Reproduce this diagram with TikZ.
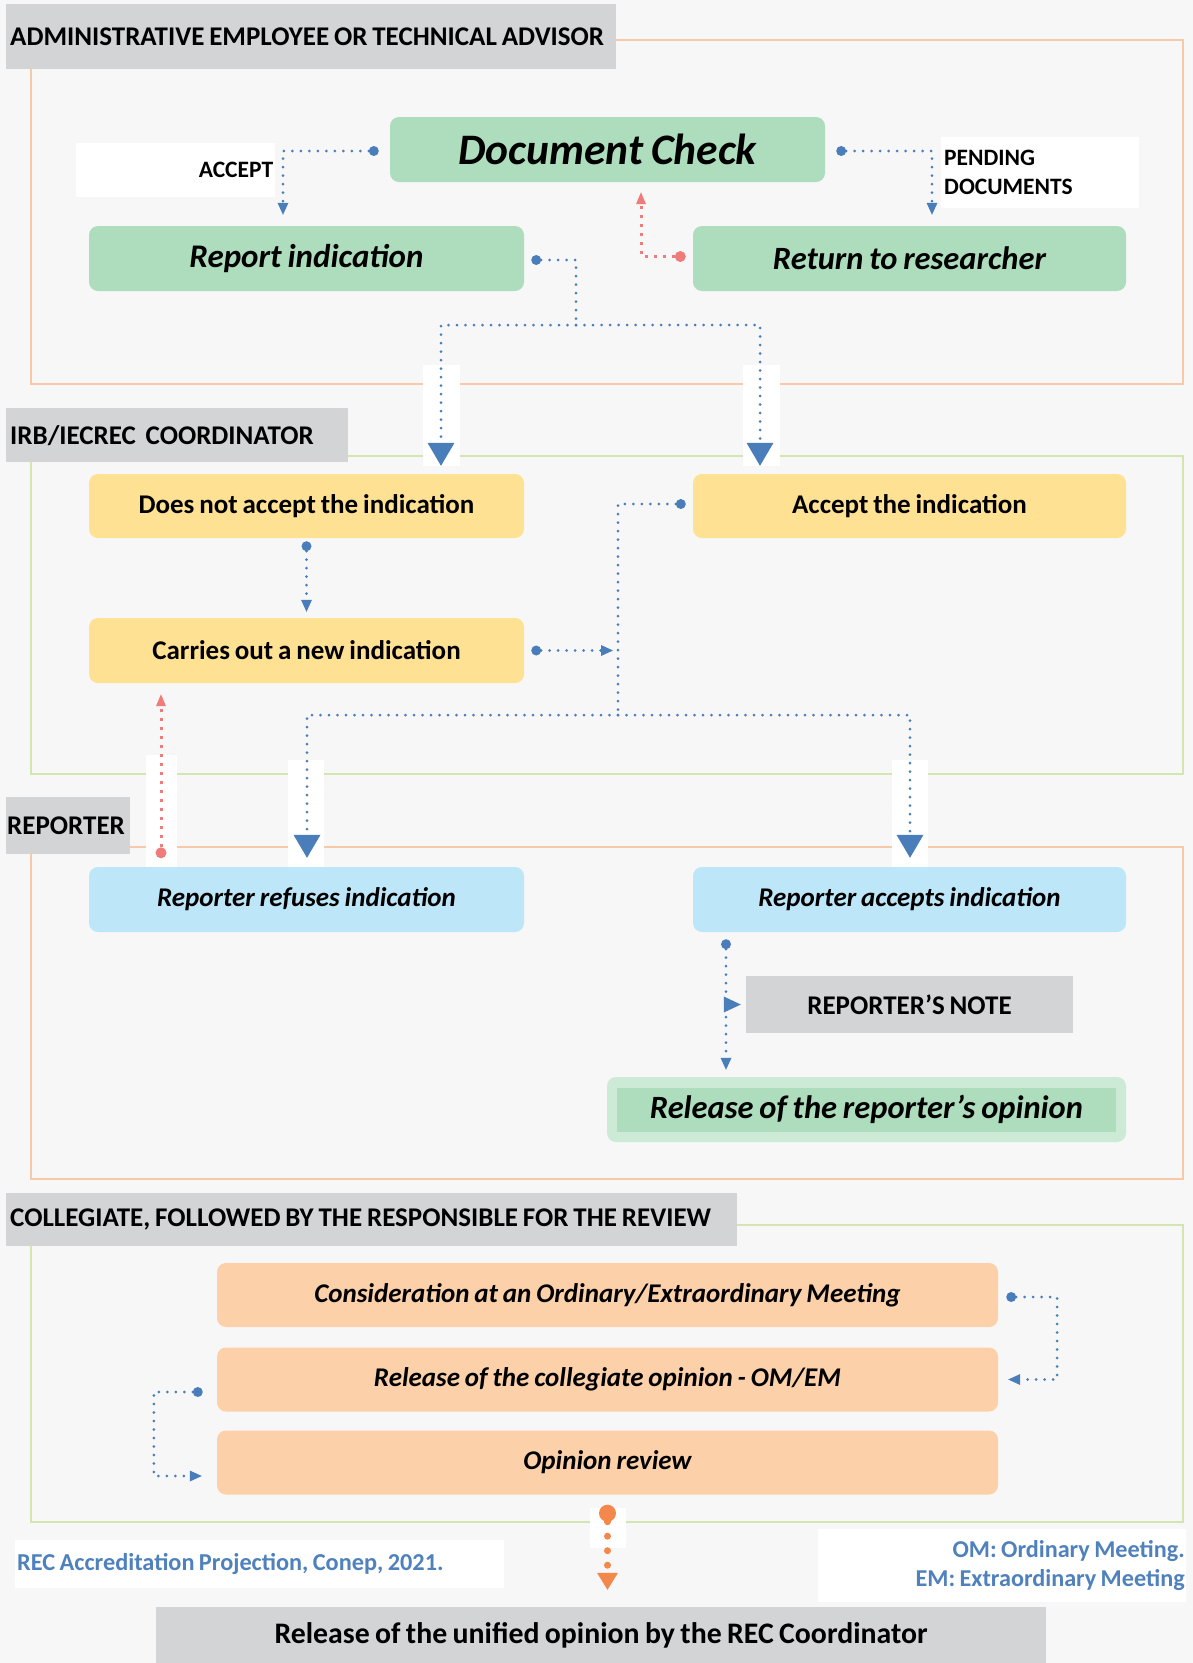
\documentclass[tikz,border=0pt]{standalone}
\usepackage{fontspec}
\setmainfont{Carlito}[WordSpace=0.8]
\usetikzlibrary{arrows.meta,calc}
\definecolor{cbg}{HTML}{F7F7F7}
\definecolor{cgray}{HTML}{D3D4D6}
\definecolor{cgreen}{HTML}{ADDDBD}
\definecolor{cgreenl}{HTML}{CDEAD6}
\definecolor{cyellow}{HTML}{FFE193}
\definecolor{cblue}{HTML}{BDE6F9}
\definecolor{cpeach}{HTML}{FCD0A9}
\definecolor{cfo}{HTML}{F8C9A8}
\definecolor{cfg}{HTML}{D4E6B0}
\definecolor{cline}{HTML}{4A7EBB}
\definecolor{cred}{HTML}{EF7B7B}
\definecolor{corange}{HTML}{F4874B}
\definecolor{cnote}{HTML}{4F81BD}
\newcommand\fsz[2]{\fontsize{#1}{#2}\selectfont}
\begin{document}
\begin{tikzpicture}[x=1pt,y=-1pt,
  box/.style={rounded corners=9pt, inner sep=0pt, minimum width=435pt, minimum height=65pt, font=\fsz{27}{32}\bfseries},
  greenbox/.style={box, fill=cgreen},
  yellowbox/.style={box, fill=cyellow},
  bluebox/.style={box, fill=cblue},
  peachbox/.style={box, fill=cpeach, minimum width=781pt, minimum height=64pt, font=\fsz{27}{32}\bfseries\itshape},
  titlebox/.style={fill=cgray, anchor=north west, inner xsep=4pt, inner ysep=0pt, font=\fsz{27}{32}\bfseries},
  whitebox/.style={fill=white, anchor=north west, inner xsep=3pt, inner ysep=0pt},
  bl/.style={draw=cline, line width=3pt, dash pattern=on 0pt off 8.5pt, line cap=round},
  rd/.style={draw=cred, line width=3pt, dash pattern=on 3pt off 6pt},
  og/.style={draw=corange, line width=7pt, dash pattern=on 0pt off 14.5pt, line cap=round},
  dot/.tip={Circle[length=10pt,width=10pt,line width=0pt]},
  stri/.tip={Triangle[length=12pt,width=11pt,line width=0pt]},
  btri/.tip={Triangle[length=23pt,width=27pt,line width=0pt]},
  frame/.style={line width=2.5pt}
]
\useasboundingbox (0,0) rectangle (1193,1663);
\fill[cbg] (0,0) rectangle (1193,1663);

% lane frames
\draw[frame, cfo] (31,40) rectangle (1183,384);
\draw[frame, cfg] (31,456) rectangle (1183,774);
\draw[frame, cfo] (31,847) rectangle (1183,1179);
\draw[frame, cfg] (31,1225) rectangle (1183,1522);

% white patches where connectors cross frames
\fill[white] (423,365) rectangle (460,466);
\fill[white] (743,365) rectangle (780,466);
\fill[white] (146,755) rectangle (177,867);
\fill[white] (288,760) rectangle (324,867);
\fill[white] (892,760) rectangle (928,868);
\fill[white] (590,1508) rectangle (626,1548);

% lane titles
\node[titlebox, minimum width=610pt, minimum height=65pt] (t1) at (6,4) {\makebox[602pt][l]{ADMINISTRATIVE EMPLOYEE OR TECHNICAL ADVISOR}};
\node[titlebox, minimum width=342pt, minimum height=54pt] (t2) at (6,408) {\makebox[334pt][l]{IRB/IECREC\hspace{0.18em} COORDINATOR}};
\node[titlebox, minimum width=124pt, minimum height=57pt, inner xsep=1pt] (t3) at (6,797) {\makebox[122pt][l]{REPORTER}};
\node[titlebox, minimum width=731pt, minimum height=53pt] (t4) at (6,1193) {\makebox[723pt][l]{COLLEGIATE, FOLLOWED BY THE RESPONSIBLE FOR THE REVIEW}};

% labels in white boxes
\node[whitebox, minimum width=199pt, minimum height=54pt, inner xsep=2pt, font=\fsz{23.5}{29}\bfseries] (lacc) at (76,143) {\makebox[195pt][r]{ACCEPT}};
\node[whitebox, minimum width=198pt, minimum height=71pt, font=\fsz{23.5}{29}\bfseries] (lpend) at (941,137) {\parbox{192pt}{PENDING\\DOCUMENTS}};

% administrative lane
\node[greenbox, font=\fsz{43.5}{50}\bfseries\itshape] (dc) at (607.5,149.5) {\raisebox{-3pt}{Document Check}};
\node[greenbox, font=\fsz{33}{38}\bfseries\itshape] (ri) at (306.5,258.5) {\raisebox{-2pt}{Report indication}};
\node[greenbox, minimum width=433pt, font=\fsz{32.5}{38}\bfseries\itshape] (rr) at (909.5,258.5) {\raisebox{-2pt}{Return to researcher}};

% coordinator lane
\node[yellowbox, minimum height=64pt] (dna) at (306.5,506) {Does not accept the indication};
\node[yellowbox, minimum height=64pt, minimum width=433pt] (acc) at (909.5,506) {Accept the indication};
\node[yellowbox] (con) at (306.5,650.5) {Carries out a new indication};

% reporter lane
\node[bluebox, font=\fsz{27}{32}\bfseries\itshape] (rref) at (306.5,899.5) {Reporter refuses indication};
\node[bluebox, minimum width=433pt, font=\fsz{27}{32}\bfseries\itshape] (racc) at (909.5,899.5) {Reporter accepts indication};
\node[fill=cgray, minimum width=327pt, minimum height=57pt, inner sep=0pt, font=\fsz{27}{32}\bfseries] (note) at (909.5,1004.5) {REPORTER'S NOTE};
\node[fill=cgreenl, rounded corners=9pt, minimum width=519pt, minimum height=65pt, inner sep=0pt] (rel) at (866.5,1109.5) {};
\node[fill=cgreen, minimum width=499pt, minimum height=44pt, inner sep=0pt, font=\fsz{32.5}{38}\bfseries\itshape] (reli) at (rel.center) {Release of the reporter's opinion};

% collegiate lane
\node[peachbox] (cons) at (607.5,1295) {Consideration at an Ordinary/Extraordinary Meeting};
\node[peachbox] (rcol) at (607.5,1379.5) {Release of the collegiate opinion - OM/EM};
\node[peachbox] (orev) at (607.5,1462.5) {Opinion review};

% final
\node[fill=cgray, minimum width=890pt, minimum height=56pt, inner sep=0pt, font=\fsz{29.8}{34}\bfseries] (fin) at (601,1635) {\raisebox{-2pt}{Release of the unified opinion by the REC Coordinator}};

% footnotes
\node[whitebox, minimum width=489pt, minimum height=48pt, inner xsep=2pt, font=\fsz{24.3}{29}\bfseries, text=cnote] (src) at (15,1540) {\makebox[485pt][l]{REC Accreditation Projection, Conep, 2021.}};
\node[whitebox, minimum width=368pt, minimum height=73pt, inner xsep=1.5pt, font=\fsz{24.2}{29}\bfseries, text=cnote] (abbr) at (818,1529) {\parbox{365pt}{\raggedleft OM: Ordinary Meeting.\\EM: Extraordinary Meeting}};

% connectors: administrative lane
\draw[bl, {dot}-{stri}] ([xshift=-11pt,yshift=-1.5pt]dc.west) -| ([xshift=-23.5pt,yshift=11pt]ri.north);
\draw[bl, {dot}-{stri}] ([xshift=11pt,yshift=-1.5pt]dc.east) -| ([xshift=22.5pt,yshift=11pt]rr.north);
\draw[rd, {Circle[length=11pt,width=11pt,line width=0pt]}-{Triangle[length=12pt,width=10pt,line width=0pt]}] ([xshift=-7pt,yshift=2pt]rr.west) -| ([xshift=33.5pt,yshift=-10pt]dc.south);

\coordinate (j1) at (576,325);
\coordinate (j1L) at (441,325);
\coordinate (j1R) at (760,325);
\draw[bl, {dot}-] ([xshift=7pt,yshift=-1.5pt]ri.east) -| (j1);
\draw[bl, -{btri}] (j1) -| ([yshift=8pt]dna.north -| j1L);
\draw[bl, -{btri}] (j1) -| ([yshift=8pt]acc.north -| j1R);

% connectors: coordinator lane
\draw[bl, {dot}-{stri}] ([yshift=-3pt]dna.south) -- ([yshift=6pt]con.north);
\coordinate (j2) at (618,715);
\coordinate (j2L) at (307,715);
\coordinate (j2R) at (910,715);
\draw[bl, {dot}-] ([xshift=-7pt,yshift=2pt]acc.west) -| (j2);
\draw[bl, {dot}-{stri}] ([xshift=7pt]con.east) -- ([xshift=-5pt]con.east -| j2);
\draw[bl, -{btri}] (j2) -| ([yshift=9pt]rref.north -| j2L);
\draw[bl, -{btri}] (j2) -| ([yshift=9pt]racc.north -| j2R);
\draw[rd, {Circle[length=11pt,width=11pt,line width=0pt]}-{Triangle[length=12pt,width=10pt,line width=0pt]}] ([xshift=-145.5pt,yshift=8.5pt]rref.north) -- ([xshift=-145.5pt,yshift=-11pt]con.south);

% connectors: reporter lane
\draw[bl, {dot}-{stri}] ([xshift=-183.5pt,yshift=-7pt]racc.south) -- ([xshift=-140.5pt,yshift=7pt]rel.north);
\draw[cline, line width=0.5pt, -{Triangle[length=17pt,width=16pt,line width=0pt]}] ([xshift=-22pt]note.west) -- ([xshift=-5pt]note.west);

% connectors: collegiate lane
\draw[bl, {dot}-{stri}] ([xshift=8pt,yshift=-2pt]cons.east) -- ++(51,0) |- ([xshift=10pt]rcol.east);
\draw[bl, {dot}-{stri}] ([xshift=-14pt,yshift=-12.5pt]rcol.west) -- ++(-49,0) |- ([xshift=-15pt,yshift=-13.5pt]orev.west);
\draw[og, {Circle[length=17pt,width=17pt,line width=0pt]}-{Triangle[length=17pt,width=21pt,line width=0pt]}] ([yshift=-10pt]orev.south) -- ([yshift=17pt]fin.north -| orev.south);
\end{tikzpicture}
\end{document}
